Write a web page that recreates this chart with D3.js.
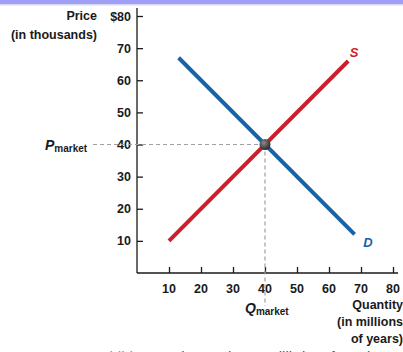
<!DOCTYPE html>
<html>
<head>
<meta charset="utf-8">
<script src="https://cdn.jsdelivr.net/npm/d3@7"></script>
<style>
  body { margin: 0; background: #fff; }
  svg { display: block; }
  text { font-family: "Liberation Sans", Arial, Helvetica, sans-serif; fill: #1a1a1a; }
</style>
</head>
<body>
<script>
const width = 403;
const height = 352;

// datos
const xTicks = [10, 20, 30, 40, 50, 60, 70, 80];
const yTicks = [10, 20, 30, 40, 50, 60, 70, 80];
const supply = [[10, 10], [66, 66]];   // [cantidad, precio]
const demand = [[13, 67], [68, 12]];
const equilibrium = [40, 40];

const svg = d3.select("body")
  .append("svg")
  .attr("width", width)
  .attr("height", height);

const x = d3.scaleLinear().domain([0, 80]).range([137, 393]);
const y = d3.scaleLinear().domain([0, 80]).range([273, 16]);

// franja superior
svg.append("rect")
  .attr("x", 0).attr("y", 0)
  .attr("width", width).attr("height", 4)
  .attr("fill", "#9e9ef4");
svg.append("rect")
  .attr("x", 0).attr("y", 4)
  .attr("width", width).attr("height", 1.5)
  .attr("fill", "#d6d6fa");

// ejes
const yAxis = d3.axisRight(y)
  .tickValues(yTicks)
  .tickSize(6)
  .tickFormat(() => "");
const gy = svg.append("g")
  .attr("transform", `translate(${x(0)},0)`)
  .call(yAxis);
gy.select(".domain").remove();
gy.selectAll(".tick line").attr("stroke", "#1a1a1a").attr("stroke-width", 1.3);

const xAxis = d3.axisTop(x)
  .tickValues(xTicks)
  .tickSize(6)
  .tickFormat(() => "");
const gx = svg.append("g")
  .attr("transform", `translate(0,${y(0)})`)
  .call(xAxis);
gx.select(".domain").remove();
gx.selectAll(".tick line").attr("stroke", "#1a1a1a").attr("stroke-width", 1.3);

svg.append("line")
  .attr("x1", x(0)).attr("x2", x(0))
  .attr("y1", 8).attr("y2", y(0))
  .attr("stroke", "#1a1a1a").attr("stroke-width", 1.3);
svg.append("line")
  .attr("x1", x(0)).attr("x2", 398)
  .attr("y1", y(0)).attr("y2", y(0))
  .attr("stroke", "#1a1a1a").attr("stroke-width", 1.3);

// etiquetas de ticks
svg.append("g").selectAll("text")
  .data(yTicks)
  .join("text")
  .attr("x", x(0) - 6)
  .attr("y", d => y(d))
  .attr("dy", "0.36em")
  .attr("text-anchor", "end")
  .style("font-size", "12.5px")
  .style("font-weight", "bold")
  .text(d => d === 80 ? "$80" : d);

svg.append("g").selectAll("text")
  .data(xTicks)
  .join("text")
  .attr("x", d => x(d))
  .attr("y", y(0) + 15)
  .attr("dy", "0.36em")
  .attr("text-anchor", "middle")
  .style("font-size", "12.5px")
  .style("font-weight", "bold")
  .text(d => d);

// lineas punteadas de equilibrio
svg.append("line")
  .attr("x1", 93).attr("x2", x(equilibrium[0]))
  .attr("y1", y(equilibrium[1])).attr("y2", y(equilibrium[1]))
  .attr("stroke", "#a0a0a0").attr("stroke-width", 1.2)
  .attr("stroke-dasharray", "4,3");
svg.append("line")
  .attr("x1", x(equilibrium[0])).attr("x2", x(equilibrium[0]))
  .attr("y1", y(equilibrium[1])).attr("y2", 306)
  .attr("stroke", "#a0a0a0").attr("stroke-width", 1.2)
  .attr("stroke-dasharray", "4,3");

// curvas de oferta y demanda
const line = d3.line().x(d => x(d[0])).y(d => y(d[1]));

svg.append("path")
  .attr("d", line(supply))
  .attr("fill", "none")
  .attr("stroke", "#cc1f2b")
  .attr("stroke-width", 4);

svg.append("path")
  .attr("d", line(demand))
  .attr("fill", "none")
  .attr("stroke", "#1a62a8")
  .attr("stroke-width", 4);

// punto de equilibrio
const grad = svg.append("defs").append("radialGradient")
  .attr("id", "dot")
  .attr("cx", "40%").attr("cy", "35%").attr("r", "65%");
grad.append("stop").attr("offset", "0%").attr("stop-color", "#8a8a8a");
grad.append("stop").attr("offset", "100%").attr("stop-color", "#2a2a2a");

svg.append("circle")
  .attr("cx", x(equilibrium[0]))
  .attr("cy", y(equilibrium[1]))
  .attr("r", 5.5)
  .attr("fill", "url(#dot)");

// etiquetas S y D
svg.append("text")
  .attr("x", 354).attr("y", 57)
  .attr("text-anchor", "middle")
  .style("font-size", "13px")
  .style("font-weight", "bold")
  .style("font-style", "italic")
  .style("fill", "#cc1f2b")
  .text("S");

svg.append("text")
  .attr("x", 368).attr("y", 247)
  .attr("text-anchor", "middle")
  .style("font-size", "13px")
  .style("font-weight", "bold")
  .style("font-style", "italic")
  .style("fill", "#1a62a8")
  .text("D");

// titulos de ejes
svg.append("text")
  .attr("x", 97).attr("y", 20)
  .attr("text-anchor", "end")
  .style("font-size", "12.5px")
  .style("font-weight", "bold")
  .text("Price");
svg.append("text")
  .attr("x", 97).attr("y", 39)
  .attr("text-anchor", "end")
  .style("font-size", "12.5px")
  .style("font-weight", "bold")
  .text("(in thousands)");

const qLabel = ["Quantity", "(in millions", "of years)"];
svg.append("g").selectAll("text")
  .data(qLabel)
  .join("text")
  .attr("x", 403)
  .attr("y", (d, i) => 309 + i * 17)
  .attr("text-anchor", "end")
  .style("font-size", "12.5px")
  .style("font-weight", "bold")
  .text(d => d);

// P market
const pm = svg.append("text")
  .attr("x", 45).attr("y", 150)
  .style("font-weight", "bold");
pm.append("tspan").style("font-size", "14px").style("font-style", "italic").text("P");
pm.append("tspan").style("font-size", "10px").attr("dy", 2).text("market");

// Q market
const qm = svg.append("text")
  .attr("x", 245).attr("y", 313)
  .style("font-weight", "bold");
qm.append("tspan").style("font-size", "14px").style("font-style", "italic").text("Q");
qm.append("tspan").style("font-size", "10px").attr("dy", 2).text("market");

// pie de figura cortado (asi aparece en la referencia)
const cap = svg.append("text")
  .attr("x", 92).attr("y", 362)
  .style("font-size", "15px");
cap.append("tspan").style("fill", "#5b9bd5").text("Exhibit 4.6");
cap.append("tspan").attr("dx", 10).style("fill", "#555").text("The Market Equilibrium for Ed");
</script>
</body>
</html>
